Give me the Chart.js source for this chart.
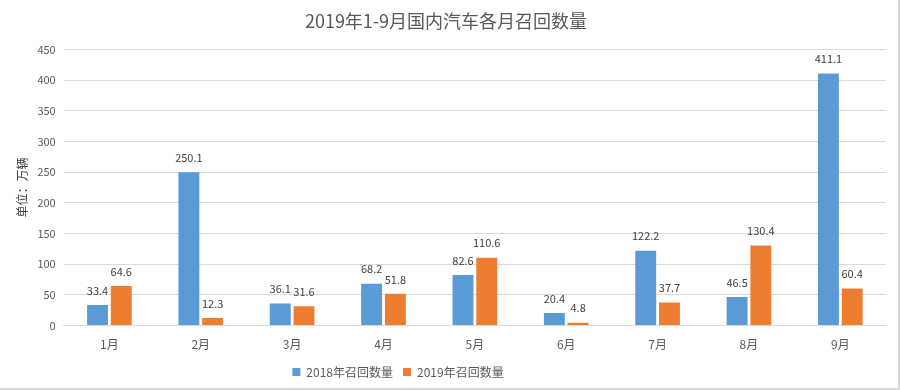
<!DOCTYPE html>
<html>
<head>
<meta charset="utf-8">
<script src="https://cdn.jsdelivr.net/npm/chart.js@4/dist/chart.umd.min.js"></script>
<style>
  html, body { margin: 0; padding: 0; background: #fff; }
  canvas { display: block; }
</style>
</head>
<body>
<canvas id="c" width="900" height="390"></canvas>
<script>
// ====== 数据 ======
const months = ['1月','2月','3月','4月','5月','6月','7月','8月','9月'];
const recall2018 = [33.4, 250.1, 36.1, 68.2, 82.6, 20.4, 122.2, 46.5, 411.1];
const recall2019 = [64.6, 12.3, 31.6, 51.8, 110.6, 4.8, 37.7, 130.4, 60.4];

const FONT = '"Microsoft YaHei", "Noto Sans CJK SC", "DejaVu Sans", sans-serif';
const GREY = '#595959';

// 柱顶数值标签
const barLabels = {
  id: 'barLabels',
  afterDatasetsDraw(chart){
    const ctx = chart.ctx;
    ctx.save();
    ctx.font = '11px ' + FONT;
    ctx.fillStyle = '#404040';
    ctx.textAlign = 'center';
    ctx.textBaseline = 'bottom';
    chart.data.datasets.forEach((ds, i) => {
      chart.getDatasetMeta(i).data.forEach((bar, j) => {
        ctx.fillText(ds.data[j].toFixed(1), bar.x, bar.y - 9);
      });
    });
    ctx.restore();
  }
};

// 图例在原图里偏左一些
const legendShift = {
  id: 'legendShift',
  afterLayout(chart){
    chart.legend.left -= 48;
    chart.legend.right -= 48;
  }
};

// 外框（右边和底边可见）
const frame = {
  id: 'frame',
  beforeDraw(chart){
    const ctx = chart.ctx;
    ctx.save();
    ctx.strokeStyle = '#d9d9d9';
    ctx.lineWidth = 2;
    ctx.beginPath();
    ctx.moveTo(0, chart.height - 1);
    ctx.lineTo(chart.width - 1, chart.height - 1);
    ctx.lineTo(chart.width - 1, 0);
    ctx.stroke();
    ctx.restore();
  }
};

new Chart(document.getElementById('c'), {
  type: 'bar',
  data: {
    labels: months,
    datasets: [
      { label: '2018年召回数量', data: recall2018, backgroundColor: '#5b9bd5' },
      { label: '2019年召回数量', data: recall2019, backgroundColor: '#ed7d31' }
    ]
  },
  options: {
    responsive: false,
    animation: false,
    devicePixelRatio: 1,
    layout: { padding: { left: 6, right: 14, top: 6, bottom: 2 } },
    datasets: { bar: { categoryPercentage: 0.52, barPercentage: 0.88 } },
    plugins: {
      title: {
        display: true,
        text: '2019年1-9月国内汽车各月召回数量',
        color: GREY,
        font: { family: FONT, size: 18, weight: 'normal' },
        padding: { top: 4, bottom: 18 }
      },
      legend: {
        position: 'bottom',
        labels: {
          color: GREY,
          font: { family: FONT, size: 12 },
          boxWidth: 8, boxHeight: 8,
          padding: 10
        }
      },
      tooltip: { enabled: false }
    },
    scales: {
      x: {
        grid: { display: false },
        border: { color: '#d9d9d9' },
        ticks: { color: GREY, font: { family: FONT, size: 12 }, padding: 4, maxRotation: 0 }
      },
      y: {
        min: 0, max: 450,
        ticks: { stepSize: 50, color: GREY, font: { family: FONT, size: 11 }, padding: 8 },
        grid: { color: '#d9d9d9', drawTicks: false },
        border: { display: false },
        title: {
          display: true,
          text: '单位：万辆',
          color: '#404040',
          font: { family: FONT, size: 12 },
          padding: { top: 9, bottom: 0 }
        }
      }
    }
  },
  plugins: [barLabels, legendShift, frame]
});
</script>
</body>
</html>
